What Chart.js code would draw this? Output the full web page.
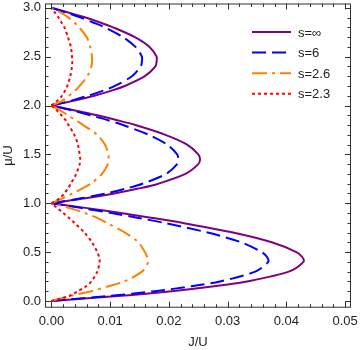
<!DOCTYPE html>
<html lang="en">
<head>
  <meta charset="UTF-8" />
  <title>Mott lobes</title>
  <style>
    body {
      margin: 0;
      background-color: white;
      overflow: hidden;
    }
    #wrap {
      position: relative;
      width: 360px;
      height: 350px;
    }
  </style>
</head>
<body>
  <div id="wrap"><canvas id="chart"></canvas></div>

  <script src="https://cdn.jsdelivr.net/npm/chart.js"></script>
  <script>
    // mu/U along the three lobes (0..1, 1..2, 2..3)
    const mu = [0, 0.05, 0.1, 0.15, 0.2, 0.3, 0.4, 0.45, 0.5, 0.6, 0.7, 0.8, 0.85, 0.9, 0.95,
      1, 1.05, 1.1, 1.15, 1.2, 1.3, 1.4, 1.45, 1.5, 1.6, 1.7, 1.8, 1.85, 1.9, 1.95,
      2, 2.05, 2.1, 2.15, 2.2, 2.3, 2.4, 2.45, 2.5, 2.6, 2.7, 2.8, 2.85, 2.9, 2.95, 3];

    // J/U on the lobe boundary
    const jInf = [0, 0.0113, 0.0205, 0.0277, 0.0333, 0.0404, 0.0429, 0.0427, 0.0417, 0.0375, 0.0309, 0.0222, 0.0172, 0.0118, 0.0061,
      0, 0.0058, 0.0107, 0.0148, 0.0182, 0.0228, 0.0250, 0.0253, 0.0250, 0.0231, 0.0194, 0.0143, 0.0112, 0.0078, 0.0040,
      0, 0.0039, 0.0073, 0.0101, 0.0125, 0.0159, 0.0177, 0.0179, 0.0179, 0.0167, 0.0142, 0.0105, 0.0083, 0.0058, 0.0030, 0];
    const j6 = [0, 0.0097, 0.0176, 0.0238, 0.0287, 0.0347, 0.0369, 0.0367, 0.0358, 0.0323, 0.0266, 0.0191, 0.0148, 0.0102, 0.0052,
      0, 0.0050, 0.0092, 0.0127, 0.0155, 0.0195, 0.0214, 0.0216, 0.0214, 0.0197, 0.0166, 0.0122, 0.0096, 0.0066, 0.0035,
      0, 0.0034, 0.0062, 0.0087, 0.0108, 0.0137, 0.0152, 0.0154, 0.0154, 0.0143, 0.0122, 0.0091, 0.0071, 0.0050, 0.0026, 0];
    const j26 = [0, 0.0031, 0.0068, 0.0097, 0.0124, 0.0154, 0.0165, 0.0163, 0.0159, 0.0148, 0.0125, 0.0094, 0.0078, 0.0057, 0.0031,
      0, 0.0019, 0.0036, 0.0052, 0.0067, 0.0086, 0.0096, 0.0097, 0.0097, 0.0091, 0.0078, 0.0054, 0.0041, 0.0028, 0.0015,
      0, 0.0019, 0.0030, 0.0040, 0.0048, 0.0061, 0.0068, 0.0069, 0.0069, 0.0066, 0.0060, 0.0047, 0.0039, 0.0029, 0.0016, 0];
    const j23 = [0, 0.0030, 0.0045, 0.0059, 0.0068, 0.0078, 0.0082, 0.0081, 0.0078, 0.0069, 0.0056, 0.0039, 0.0030, 0.0020, 0.0010,
      0, 0.0014, 0.0022, 0.0028, 0.0033, 0.0042, 0.0048, 0.0049, 0.0048, 0.0045, 0.0039, 0.0029, 0.0024, 0.0017, 0.0009,
      0, 0.0010, 0.0018, 0.0023, 0.0027, 0.0032, 0.0035, 0.00355, 0.0035, 0.0033, 0.0028, 0.0022, 0.0017, 0.0012, 0.0006, 0];

    const seriesLabels = ['s=\u221E', 's=6', 's=2.6', 's=2.3'];
    const xTicks = [0, 0.01, 0.02, 0.03, 0.04, 0.05];
    const yTicks = [0, 0.5, 1, 1.5, 2, 2.5, 3];

    const styles = [
      { color: '#800080', dash: [] },
      { color: '#0000FF', dash: [14, 6] },
      { color: '#FF8000', dash: [15, 5, 3, 5] },
      { color: '#FF0000', dash: [3, 3] }
    ];
    const allJ = [jInf, j6, j26, j23];

    const datasets = [];
    allJ.forEach((js, s) => {
      for (let k = 0; k < 3; k++) {
        const pts = [];
        for (let i = 15 * k; i <= 15 * k + 15; i++) pts.push({ x: js[i], y: mu[i] });
        datasets.push({
          label: seriesLabels[s],
          data: pts,
          showLine: true,
          borderColor: styles[s].color,
          borderDash: styles[s].dash,
          borderWidth: 2,
          pointRadius: 0,
          tension: 0.3,
          order: 3 - s
        });
      }
    });

    const FONT = '"Liberation Sans", Arial, sans-serif';
    const TEXT = '#222';

    // Mathematica-like frame with inward ticks on all sides
    const framePlugin = {
      id: 'frame',
      afterDraw(chart) {
        const { ctx, chartArea: a, scales } = chart;
        ctx.save();
        ctx.strokeStyle = '#333';
        ctx.lineWidth = 1;
        ctx.setLineDash([]);
        ctx.strokeRect(a.left + 0.5, a.top + 0.5, a.right - a.left - 1, a.bottom - a.top - 1);
        ctx.beginPath();
        for (let m = 0; m < xTicks.length; m++) {
          for (let j = 0; j < 5; j++) {
            const v = xTicks[m] + j * 0.002;
            if (m === xTicks.length - 1 && j > 0) break;
            const px = Math.round(scales.x.getPixelForValue(v)) + 0.5;
            const len = j === 0 ? 6 : 3.5;
            ctx.moveTo(px, a.bottom); ctx.lineTo(px, a.bottom - len);
            ctx.moveTo(px, a.top); ctx.lineTo(px, a.top + len);
          }
        }
        for (let m = 0; m < yTicks.length; m++) {
          for (let j = 0; j < 5; j++) {
            if (m === yTicks.length - 1 && j > 0) break;
            const v = yTicks[m] + j * 0.1;
            const py = Math.round(scales.y.getPixelForValue(v)) + 0.5;
            const len = j === 0 ? 6 : 3.5;
            ctx.moveTo(a.left, py); ctx.lineTo(a.left + len, py);
            ctx.moveTo(a.right, py); ctx.lineTo(a.right - len, py);
          }
        }
        ctx.stroke();

        // legend
        const x0 = a.right - 99, x1 = a.right - 60, tx = a.right - 53;
        ctx.font = '13px ' + FONT;
        ctx.textBaseline = 'middle';
        ctx.textAlign = 'left';
        seriesLabels.forEach((lab, i) => {
          const y = a.top + 28.5 + i * 20.6;
          ctx.beginPath();
          ctx.strokeStyle = styles[i].color;
          ctx.lineWidth = 2;
          ctx.setLineDash(styles[i].dash);
          ctx.moveTo(x0, y); ctx.lineTo(x1, y);
          ctx.stroke();
          ctx.fillStyle = TEXT;
          ctx.fillText(lab, tx, y + 1);
        });
        ctx.restore();
      }
    };

    new Chart(document.getElementById('chart'), {
      type: 'scatter',
      data: { datasets },
      options: {
        responsive: true,
        maintainAspectRatio: false,
        animation: false,
        devicePixelRatio: 1,
        layout: { padding: { top: 3.5, right: 9, left: 0, bottom: 0 } },
        plugins: { legend: { display: false }, tooltip: { enabled: false } },
        scales: {
          x: {
            type: 'linear',
            min: -0.0011,
            max: 0.051,
            grid: { display: false, drawTicks: false },
            border: { display: false },
            afterBuildTicks: (s) => { s.ticks = xTicks.map(v => ({ value: v })); },
            afterFit: (s) => { s.height = 42.3; s.paddingLeft = 0; s.paddingRight = 0; },
            ticks: {
              padding: 6,
              color: TEXT,
              font: { family: FONT, size: 13 },
              maxRotation: 0,
              callback: (v) => v.toFixed(2)
            },
            title: {
              display: true,
              text: 'J/U',
              color: TEXT,
              font: { family: FONT, size: 13 },
              padding: { top: 0, bottom: 0 }
            }
          },
          y: {
            type: 'linear',
            min: -0.069,
            max: 3.044,
            grid: { display: false, drawTicks: false },
            border: { display: false },
            afterBuildTicks: (s) => { s.ticks = yTicks.map(v => ({ value: v })); },
            afterFit: (s) => { s.width = 45; s.paddingTop = 0; s.paddingBottom = 0; },
            ticks: {
              padding: 4,
              color: TEXT,
              font: { family: FONT, size: 13 },
              callback: (v) => v.toFixed(1)
            },
            title: {
              display: true,
              text: '\u03BC/U',
              color: TEXT,
              font: { family: FONT, size: 13 },
              padding: { top: 0.2, bottom: 0 }
            }
          }
        }
      },
      plugins: [framePlugin]
    });
  </script>
</body>
</html>
